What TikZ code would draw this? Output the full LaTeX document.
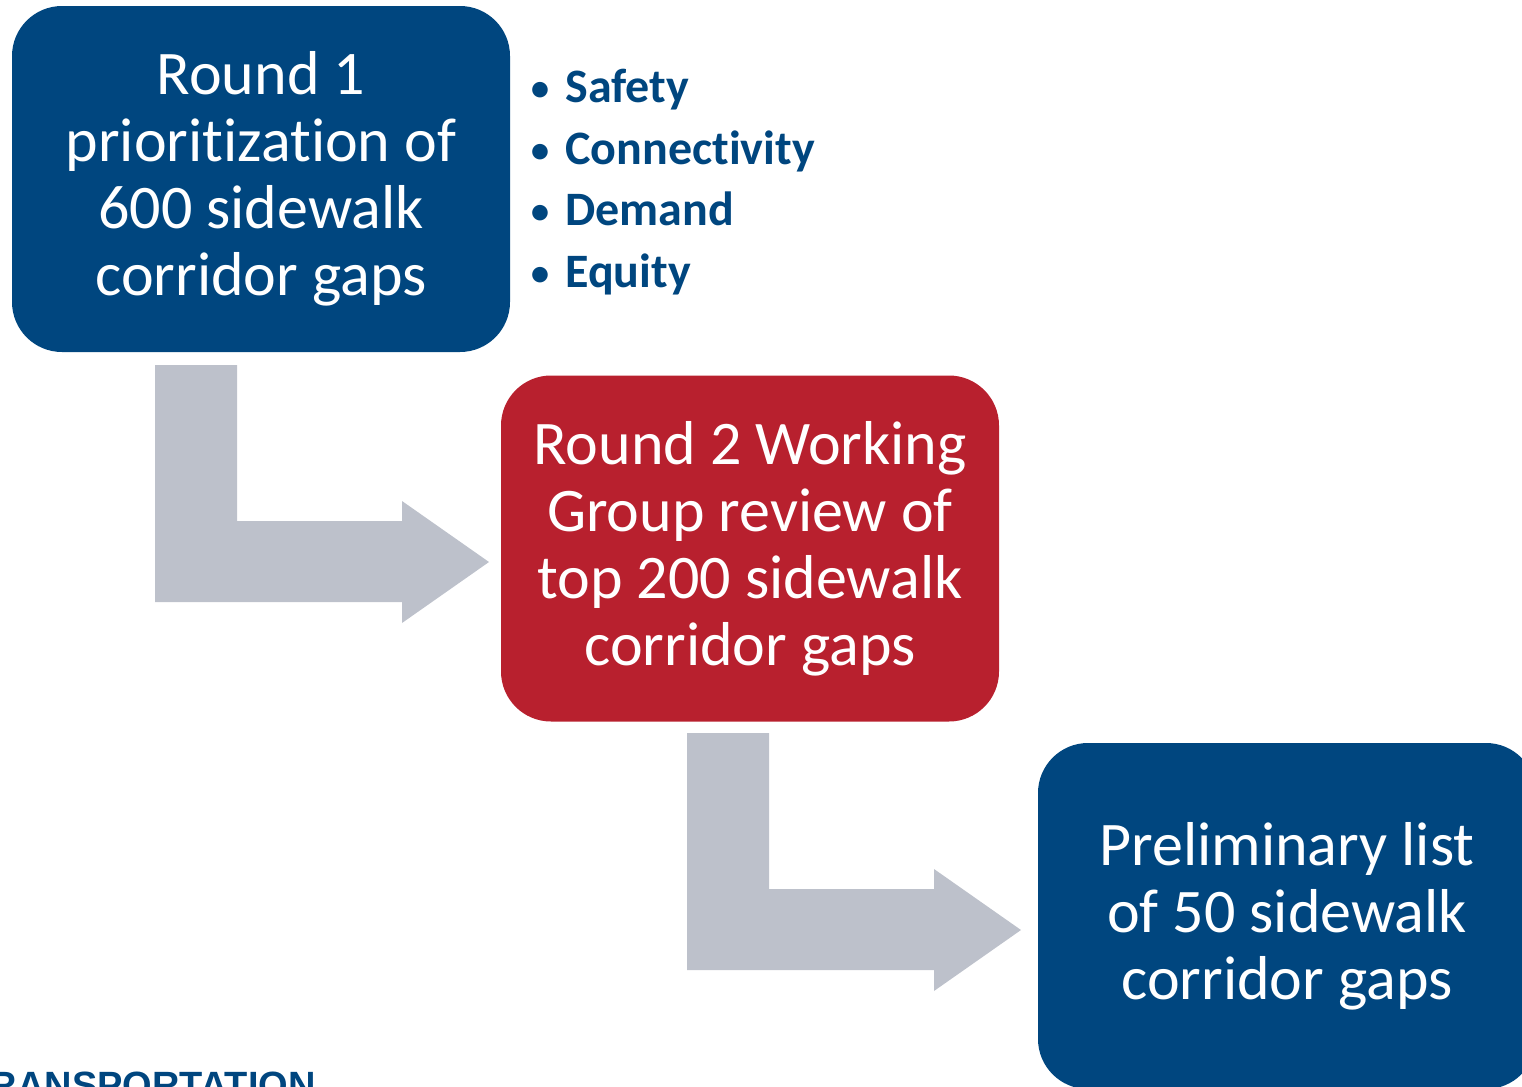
\documentclass[tikz,border=0pt]{standalone}
\usepackage{fontspec}
\setmainfont[Ligatures={NoCommon}]{Carlito}
\newfontfamily\logofont{Liberation Sans}
\definecolor{stepblue}{RGB}{0,70,127}
\definecolor{stepred}{RGB}{184,32,46}
\definecolor{bendgrey}{RGB}{189,193,203}
\begin{document}
\begin{tikzpicture}[x=0.5pt,y=-0.5pt,
  stagebox/.style={rounded corners=25pt, minimum width=249pt, minimum height=173pt,
    inner sep=0pt, align=center, text=white,
    font=\fontsize{31}{33.5}\selectfont},
  crit/.style={anchor=base west, inner sep=0pt, text=stepblue,
    font=\fontsize{24}{28}\selectfont\bfseries},
  dot/.style={anchor=base, inner sep=0pt, text=stepblue,
    font=\fontsize{22}{28}\selectfont},
  bendarrow/.style={fill=bendgrey}]
\useasboundingbox (0,0) rectangle (1522,1087);
\clip (0,0) rectangle (1522,1087);

% stage boxes
\node[stagebox, fill=stepblue] (r1) at (261,179)
  {Round 1\\prioritization of\\600 sidewalk\\corridor gaps};
\node[stagebox, fill=stepred] (r2) at (750,548.5)
  {Round 2 Working\\Group review of\\top 200 sidewalk\\corridor gaps};
\node[stagebox, fill=stepblue] (r3) at (1287,916)
  {Preliminary list\\of 50 sidewalk\\corridor gaps};

% criteria list
\foreach \name/\txt/\yy in {safety/Safety/102, conn/Connectivity/164,
                             demand/Demand/225, equity/Equity/287}{
  \node[dot] (b\name) at (540,\yy) {\textbullet};
  \node[crit] (\name) at (565,\yy) {\txt};
}

% bent block arrows between the stages
\foreach \dx/\dy/\nm in {0/0/a1, 532/368/a2}{
  \begin{scope}[shift={(\dx,\dy)}]
    \fill[bendarrow] (155,365) -- (237,365) -- (237,521) -- (402,521) -- (402,501)
      -- (489,562) -- (402,623) -- (402,602) -- (155,602) -- cycle;
    \coordinate (\nm) at (489,562);
  \end{scope}
}

% organisation name along the lower edge
\node[anchor=base east, inner sep=0pt, text=stepblue,
  font=\logofont\fontsize{19}{22}\selectfont\bfseries] (logo) at (316,1098)
  {TRANSPORTATION};
\end{tikzpicture}
\end{document}
